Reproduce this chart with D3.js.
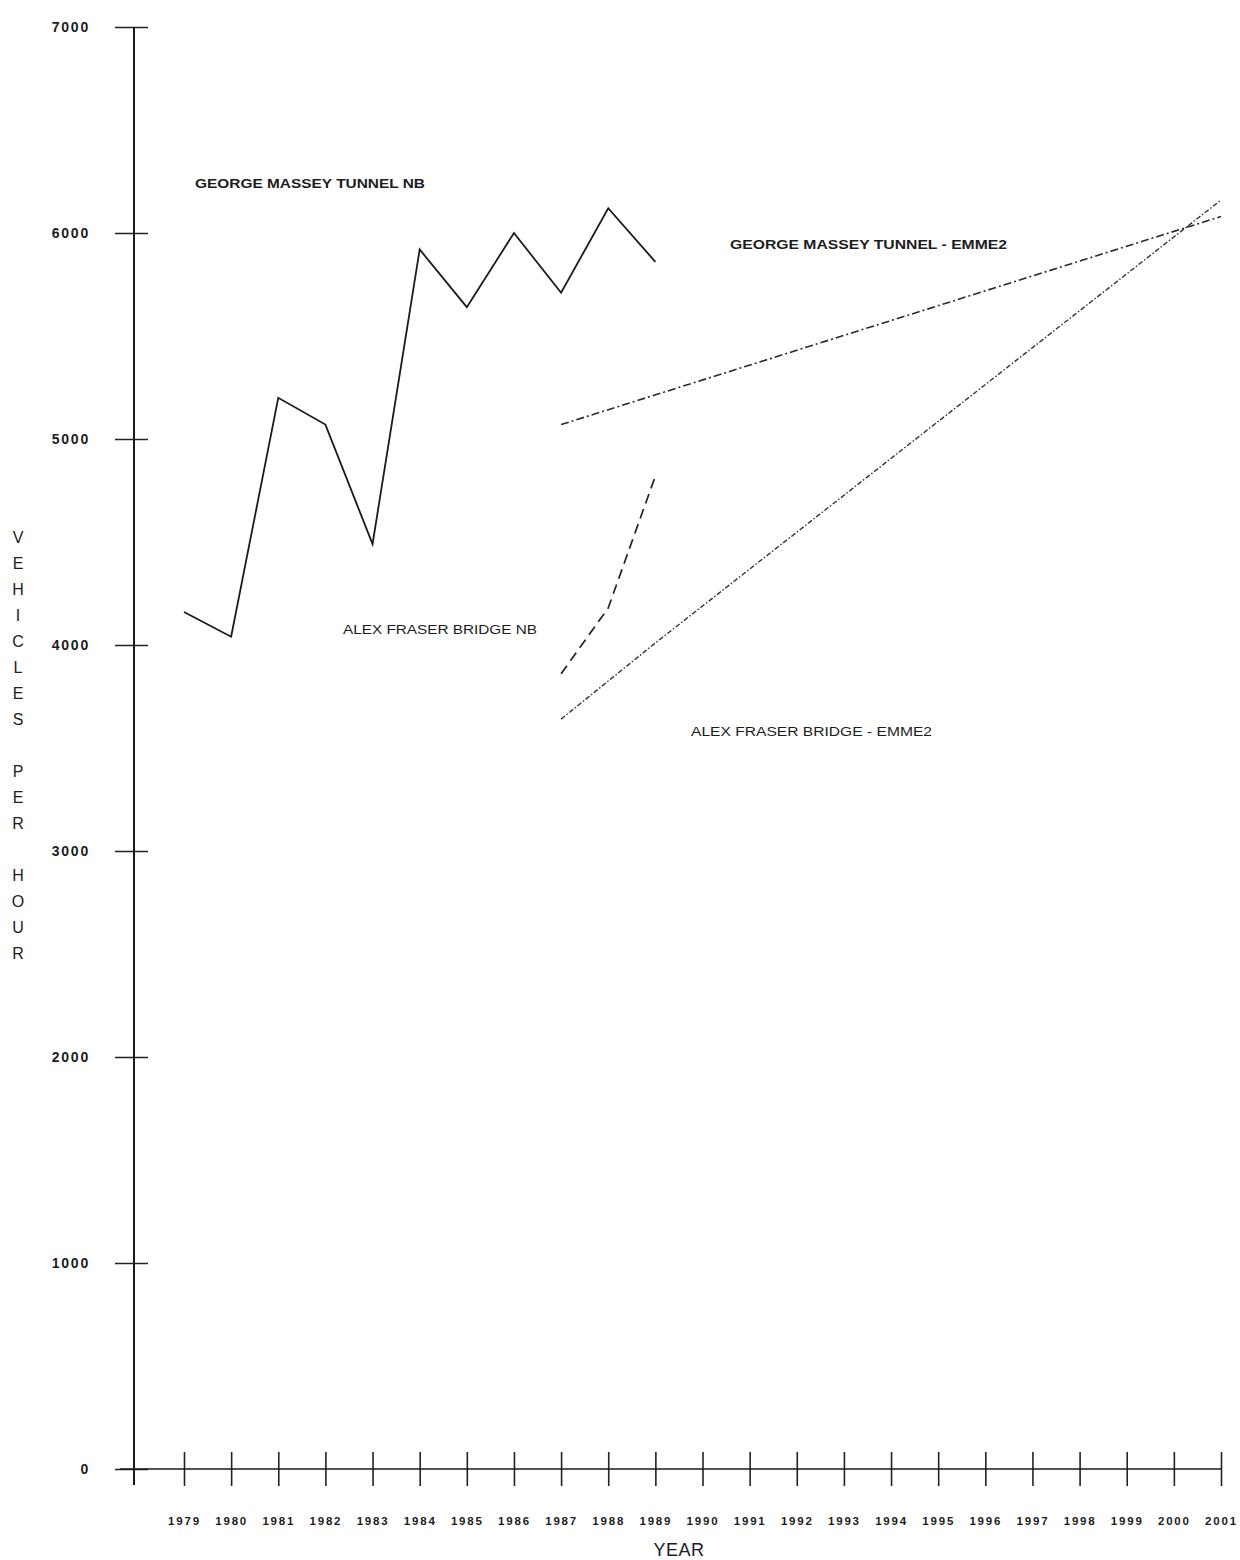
<!DOCTYPE html>
<html>
<head>
<meta charset="utf-8">
<script src="https://cdn.jsdelivr.net/npm/d3@7"></script>
<style>
  html, body { margin: 0; padding: 0; background: #fff; }
  svg { display: block; }
  text { font-family: "Liberation Sans", Arial, sans-serif; fill: #1c1c1c; }
</style>
</head>
<body>
<svg id="chart" width="1240" height="1560"></svg>
<script>
// Peak-hour northbound volumes (vehicles per hour)
const yearTicks = [1979, 1980, 1981, 1982, 1983, 1984, 1985, 1986, 1987, 1988, 1989, 1990,
                   1991, 1992, 1993, 1994, 1995, 1996, 1997, 1998, 1999, 2000, 2001];
const valueTicks = [0, 1000, 2000, 3000, 4000, 5000, 6000, 7000];

const masseyYears = [1979, 1980, 1981, 1982, 1983, 1984, 1985, 1986, 1987, 1988, 1989];
const masseyNB    = [4160, 4040, 5200, 5070, 4490, 5920, 5640, 6000, 5710, 6120, 5860];

const fraserYears = [1987, 1988, 1989];
const fraserNB    = [3860, 4180, 4820];

const masseyEmmeYears = [1987, 2001];
const masseyEmme      = [5070, 6080];

const fraserEmmeYears = [1987, 1989, 2001];
const fraserEmme      = [3640, 4010, 6160];

const svg = d3.select("#chart");

const x = d3.scaleLinear().domain([1979, 2001]).range([184, 1221]);
const y = d3.scaleLinear().domain([0, 7000]).range([1469, 27]);
const axisX = 134;

// ---- Y axis: ticks cross the axis line
const yAxis = svg.append("g")
  .attr("transform", `translate(${axisX},0)`)
  .call(d3.axisLeft(y).tickValues(valueTicks).tickSize(19).tickPadding(26)
        .tickFormat(d3.format("d")));
yAxis.select(".domain").remove();
yAxis.selectAll(".tick line").attr("x2", 14).attr("x1", -19)
  .attr("stroke", "#222").attr("stroke-width", 1.4);
yAxis.selectAll(".tick text")
  .attr("x", -44)
  .style("font-family", "'Liberation Sans', Arial, sans-serif")
  .style("font-size", "14px").style("font-weight", "bold")
  .attr("fill", "#222").attr("letter-spacing", "1.8");
yAxis.append("line")
  .attr("x1", 0).attr("x2", 0)
  .attr("y1", y(7000)).attr("y2", 1485)
  .attr("stroke", "#1a1a1a").attr("stroke-width", 2);

// ---- X axis: ticks cross the baseline
const xAxis = svg.append("g")
  .attr("transform", `translate(0,${y(0)})`)
  .call(d3.axisBottom(x).tickValues(yearTicks).tickSize(17).tickPadding(31)
        .tickFormat(d3.format("d")));
xAxis.select(".domain").remove();
xAxis.selectAll(".tick line").attr("y1", -17).attr("y2", 17)
  .attr("stroke", "#222").attr("stroke-width", 1.6);
xAxis.selectAll(".tick text")
  .style("font-family", "'Liberation Sans', Arial, sans-serif")
  .style("font-size", "11.5px").style("font-weight", "bold")
  .attr("letter-spacing", "1.8").attr("fill", "#1a1a1a");
xAxis.append("line")
  .attr("x1", 120).attr("x2", x(2001))
  .attr("y1", 0).attr("y2", 0)
  .attr("stroke", "#1a1a1a").attr("stroke-width", 1.6);

// ---- Axis titles
svg.append("text")
  .attr("x", 679).attr("y", 1556)
  .attr("text-anchor", "middle")
  .style("font-size", "18px")
  .attr("letter-spacing", "0.5")
  .text("YEAR");

const yTitle = "VEHICLES PER HOUR".split("");
svg.append("g").selectAll("text")
  .data(yTitle)
  .join("text")
  .attr("x", 18)
  .attr("y", (d, i) => 543 + i * 26)
  .attr("text-anchor", "middle")
  .style("font-size", "16px")
  .text(d => d);

// ---- Series
const line = d3.line().x(d => x(d[0])).y(d => y(d[1]));
const series = [
  { years: masseyYears,     values: masseyNB,   dash: null,            width: 1.8, color: "#1a1a1a" },
  { years: fraserYears,     values: fraserNB,   dash: "10,6",          width: 1.7, color: "#222" },
  { years: masseyEmmeYears, values: masseyEmme, dash: "8,3,2,3",       width: 1.6, color: "#2a2a2a" },
  { years: fraserEmmeYears, values: fraserEmme, dash: "5,2,1.5,2",     width: 1.4, color: "#333" }
];
svg.append("g").selectAll("path")
  .data(series)
  .join("path")
  .attr("d", s => line(s.years.map((yr, i) => [yr, s.values[i]])))
  .attr("fill", "none")
  .attr("stroke", s => s.color)
  .attr("stroke-width", s => s.width)
  .attr("stroke-linejoin", "miter")
  .attr("stroke-dasharray", s => s.dash);

// ---- Series labels
const labels = [
  { text: "GEORGE MASSEY TUNNEL NB",      x: 195, y: 188, w: 230, bold: true },
  { text: "GEORGE MASSEY TUNNEL - EMME2", x: 730, y: 249, w: 277, bold: true },
  { text: "ALEX FRASER BRIDGE NB",        x: 343, y: 634, w: 194, bold: false },
  { text: "ALEX FRASER BRIDGE - EMME2",   x: 691, y: 736, w: 241, bold: false }
];
svg.append("g").selectAll("text")
  .data(labels)
  .join("text")
  .attr("x", d => d.x).attr("y", d => d.y)
  .attr("textLength", d => d.w)
  .attr("lengthAdjust", "spacingAndGlyphs")
  .style("font-size", "12px")
  .style("font-weight", d => d.bold ? "bold" : "normal")
  .text(d => d.text);
</script>
</body>
</html>
